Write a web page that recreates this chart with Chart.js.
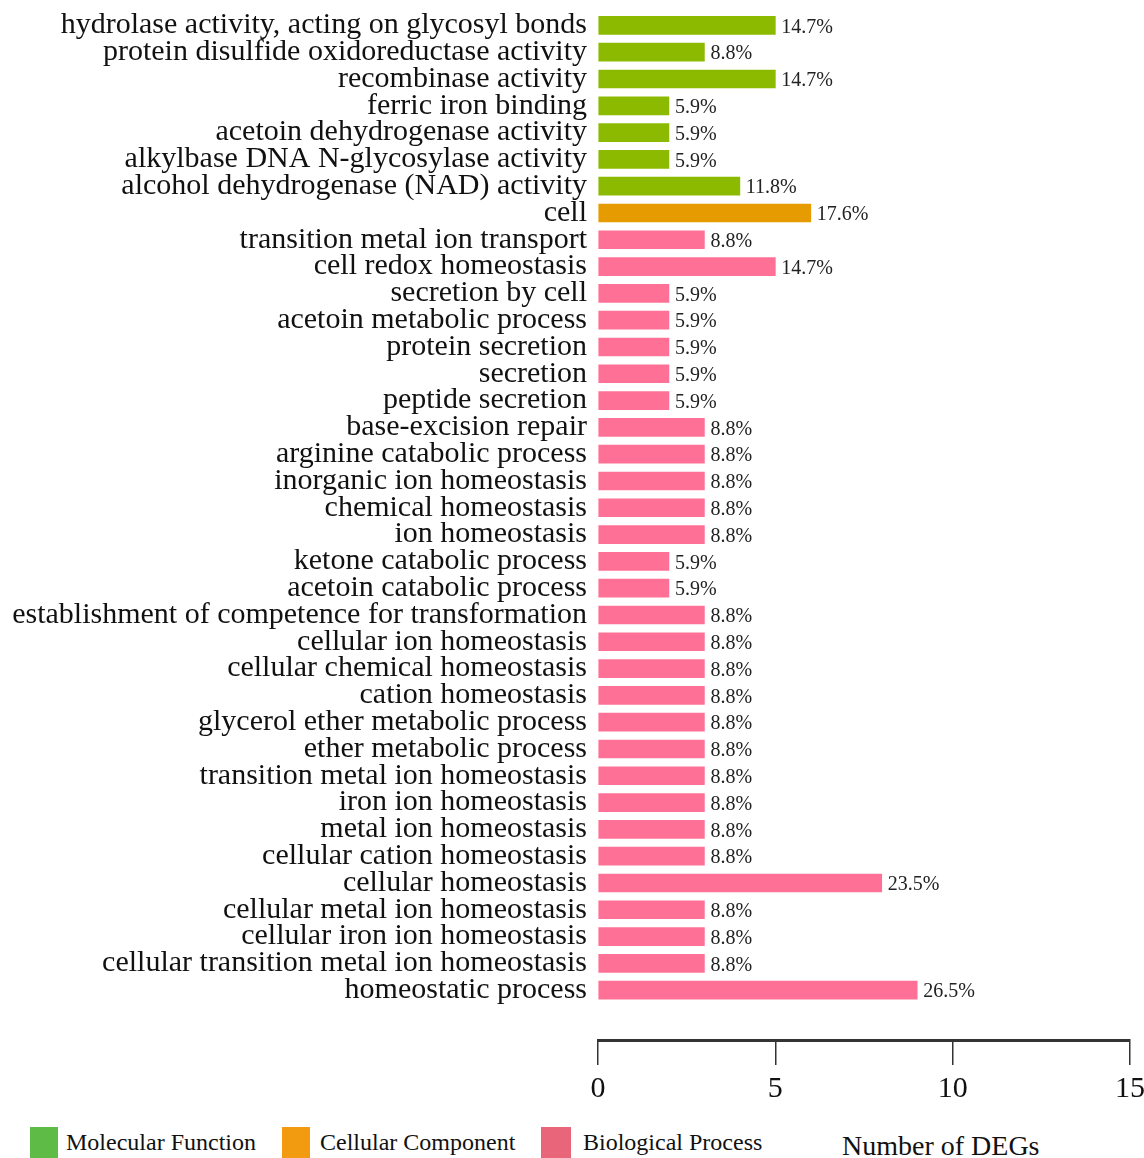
<!DOCTYPE html>
<html>
<head>
<meta charset="utf-8">
<script src="https://cdn.jsdelivr.net/npm/chart.js@4"></script>
<style>
  body { margin: 0; background: #fff; width: 1144px; height: 1158px; overflow: hidden; position: relative; font-family: "Liberation Serif", "Times New Roman", serif; }
  #wrap { position: absolute; left: 0; top: 0; width: 1144px; height: 1118px; }
  .sq { position: absolute; top: 1127px; height: 32px; }
  .lt { position: absolute; top: 1129px; font-size: 24px; line-height: 26px; color: #111; white-space: nowrap; }
  #xtitle { position: absolute; left: 842px; top: 1131px; font-size: 28px; line-height: 30px; color: #111; }
</style>
</head>
<body>
<div id="wrap"><canvas id="goChart"></canvas></div>
<div id="legend"></div>
<div id="xtitle">Number of DEGs</div>
<script>
// GO terms, top to bottom
const categories = [
  'hydrolase activity, acting on glycosyl bonds',
  'protein disulfide oxidoreductase activity',
  'recombinase activity',
  'ferric iron binding',
  'acetoin dehydrogenase activity',
  'alkylbase DNA N-glycosylase activity',
  'alcohol dehydrogenase (NAD) activity',
  'cell',
  'transition metal ion transport',
  'cell redox homeostasis',
  'secretion by cell',
  'acetoin metabolic process',
  'protein secretion',
  'secretion',
  'peptide secretion',
  'base-excision repair',
  'arginine catabolic process',
  'inorganic ion homeostasis',
  'chemical homeostasis',
  'ion homeostasis',
  'ketone catabolic process',
  'acetoin catabolic process',
  'establishment of competence for transformation',
  'cellular ion homeostasis',
  'cellular chemical homeostasis',
  'cation homeostasis',
  'glycerol ether metabolic process',
  'ether metabolic process',
  'transition metal ion homeostasis',
  'iron ion homeostasis',
  'metal ion homeostasis',
  'cellular cation homeostasis',
  'cellular homeostasis',
  'cellular metal ion homeostasis',
  'cellular iron ion homeostasis',
  'cellular transition metal ion homeostasis',
  'homeostatic process'
];
const degCounts = [5, 3, 5, 2, 2, 2, 4, 6, 3, 5, 2, 2, 2, 2, 2, 3, 3, 3, 3, 3, 2, 2, 3, 3, 3, 3, 3, 3, 3, 3, 3, 3, 8, 3, 3, 3, 9];
const pctLabels = ['14.7%', '8.8%', '14.7%', '5.9%', '5.9%', '5.9%', '11.8%', '17.6%', '8.8%', '14.7%',
  '5.9%', '5.9%', '5.9%', '5.9%', '5.9%', '8.8%', '8.8%', '8.8%', '8.8%', '8.8%',
  '5.9%', '5.9%', '8.8%', '8.8%', '8.8%', '8.8%', '8.8%', '8.8%', '8.8%', '8.8%',
  '8.8%', '8.8%', '23.5%', '8.8%', '8.8%', '8.8%', '26.5%'];
// 0 = Molecular Function, 1 = Cellular Component, 2 = Biological Process
const groupOf = [0, 0, 0, 0, 0, 0, 0, 1, 2, 2, 2, 2, 2, 2, 2, 2, 2, 2, 2, 2, 2, 2, 2, 2, 2, 2, 2, 2, 2, 2, 2, 2, 2, 2, 2, 2, 2];
const groupNames = ['Molecular Function', 'Cellular Component', 'Biological Process'];
const barColors = ['#8cba00', '#e69c00', '#ff7096'];
const legendColors = ['#5dbb46', '#f29a10', '#e8657a'];
const xTicks = [0, 5, 10, 15];

const serif = '"Liberation Serif", "Times New Roman", serif';

// 막대 끝에 퍼센트 표시
const pctPlugin = {
  id: 'pctPlugin',
  afterDatasetsDraw(chart) {
    const ctx = chart.ctx;
    const meta = chart.getDatasetMeta(0);
    ctx.save();
    ctx.font = '20px ' + serif;
    ctx.fillStyle = '#222';
    ctx.textAlign = 'left';
    ctx.textBaseline = 'middle';
    meta.data.forEach((bar, i) => {
      ctx.fillText(pctLabels[i], bar.x + 6, bar.y + 2);
    });
    ctx.restore();
  }
};

const ctx = document.getElementById('goChart').getContext('2d');
new Chart(ctx, {
  type: 'bar',
  data: {
    datasets: [{
      data: degCounts.map((v, i) => ({ x: v, y: i })),
      backgroundColor: groupOf.map(g => barColors[g]),
      borderWidth: 0,
      barThickness: 18
    }]
  },
  options: {
    indexAxis: 'y',
    responsive: true,
    maintainAspectRatio: false,
    animation: false,
    layout: { padding: { top: 12, right: 14, left: 0, bottom: 0 } },
    plugins: { legend: { display: false }, tooltip: { enabled: false } },
    scales: {
      y: {
        type: 'linear',
        reverse: true,
        offset: false,
        min: -0.5,
        max: 37.86,
        afterBuildTicks: s => { s.ticks = categories.map((c, i) => ({ value: i })); },
        afterFit: s => { s.width = 598; s.paddingTop = 0; s.paddingBottom = 0; },
        border: { display: false },
        grid: { display: false, drawTicks: false },
        ticks: {
          autoSkip: false,
          padding: 11,
          color: '#111',
          font: { family: serif, size: 30 },
          callback: v => categories[v]
        }
      },
      x: {
        type: 'linear',
        position: 'bottom',
        min: 0,
        max: 15,
        afterBuildTicks: s => { s.ticks = xTicks.map(v => ({ value: v })); },
        afterFit: s => { s.height = 78; s.paddingLeft = 0; s.paddingRight = 0; },
        border: { display: true, color: '#333', width: 3 },
        grid: { drawOnChartArea: false, drawTicks: true, tickLength: 25, color: '#333', lineWidth: 1.5 },
        ticks: {
          padding: 6,
          color: '#111',
          font: { family: serif, size: 30 }
        }
      }
    }
  },
  plugins: [pctPlugin]
});

// 범례
const legendPos = [[30, 28, 66], [282, 28, 320], [541, 30, 583]];
const legend = document.getElementById('legend');
groupNames.forEach((name, g) => {
  const sq = document.createElement('div');
  sq.className = 'sq';
  sq.style.left = legendPos[g][0] + 'px';
  sq.style.width = legendPos[g][1] + 'px';
  sq.style.background = legendColors[g];
  legend.appendChild(sq);
  const t = document.createElement('div');
  t.className = 'lt';
  t.style.left = legendPos[g][2] + 'px';
  t.textContent = name;
  legend.appendChild(t);
});
</script>
</body>
</html>
